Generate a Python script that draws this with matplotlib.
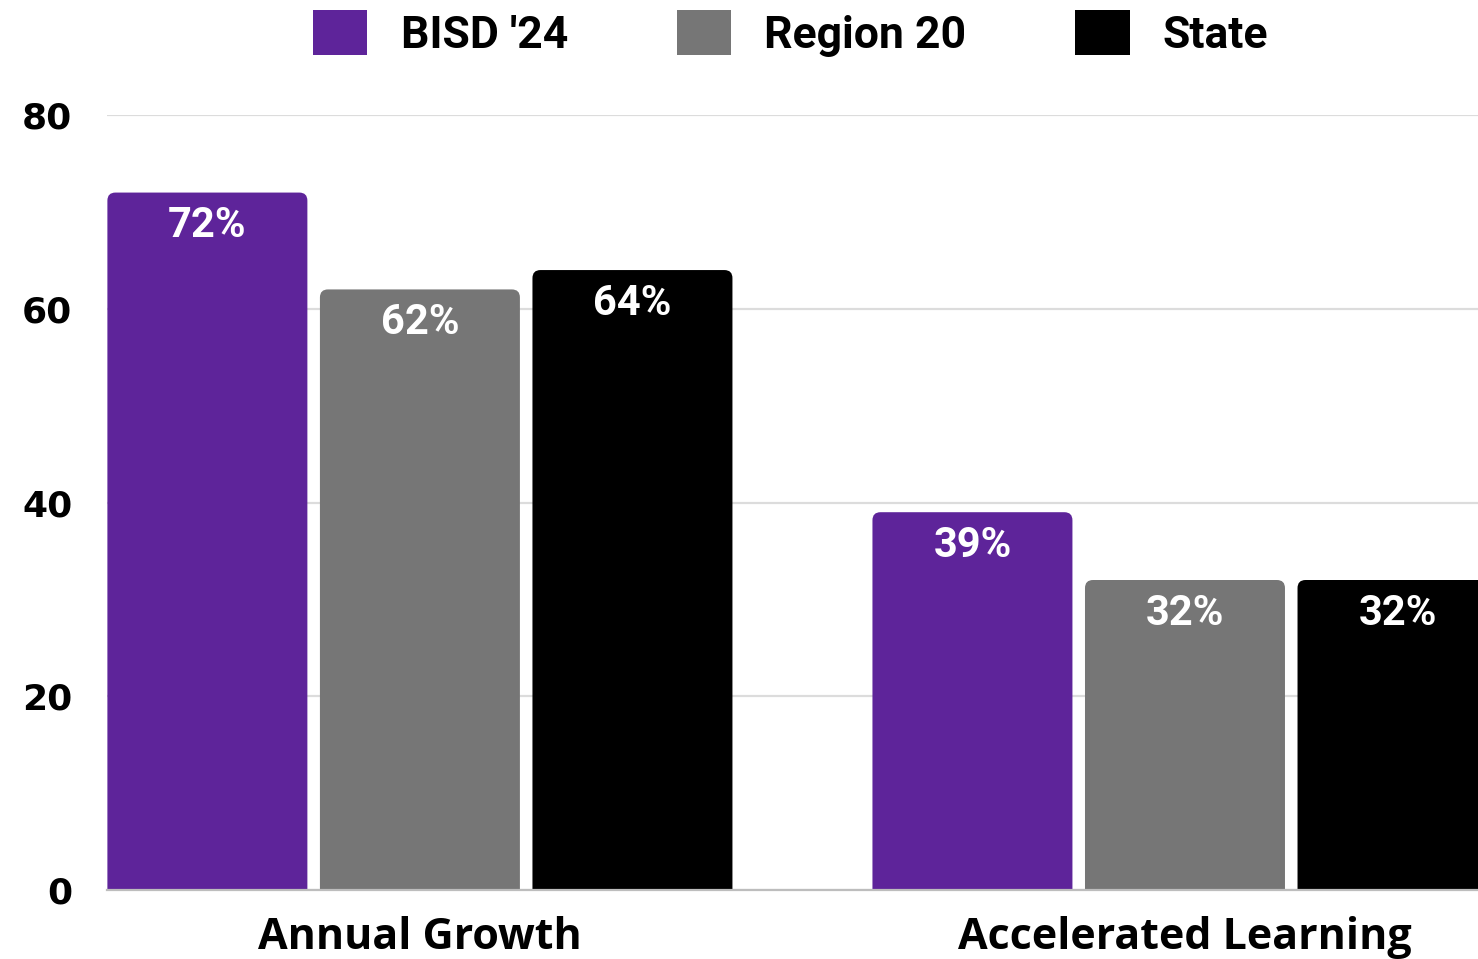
import numpy as np
import matplotlib
matplotlib.use("Agg")
import matplotlib.pyplot as plt
import matplotlib.patches as mpatches

# Data
categories = ["Annual Growth", "Accelerated Learning"]
series = ["BISD '24", "Region 20", "State"]
bisd = [72, 39]
region20 = [62, 32]
state = [64, 32]
colors = ["#5E249A", "#767676", "#000000"]
yticks = [0, 20, 40, 60, 80]

values = [bisd, region20, state]

fig = plt.figure(figsize=(14.78, 9.59), dpi=100)
ax = fig.add_axes([0.0724, 0.072, 0.9276, 0.808])

x = np.arange(len(categories))
width = 0.2614
step = 0.2778

# rounded top corners (radius ~8 px); bottom rounding is hidden below y=0
rsize = 0.0105
aspect = 79.0

for i, (name, vals, col) in enumerate(zip(series, values, colors)):
    bars = ax.bar(x + (i - 1) * step, vals, width, color=col, alpha=0)
    for b, v in zip(bars, vals):
        patch = mpatches.FancyBboxPatch(
            (b.get_x(), -3), b.get_width(), b.get_height() + 3,
            boxstyle=mpatches.BoxStyle("Round", pad=0, rounding_size=rsize),
            mutation_aspect=aspect, facecolor=col, edgecolor="none", zorder=3)
        ax.add_patch(patch)
        ax.annotate("%d%%" % v, (b.get_x() + b.get_width() / 2, v),
                    xytext=(0, -24), textcoords="offset points",
                    ha="center", va="center", color="white",
                    fontsize=30, fontweight="bold", family="Roboto", zorder=4)

ax.set_xlim(-0.409, 1.383)
ax.set_ylim(0, 80)
ax.set_yticks(yticks)
ax.set_yticklabels([str(t) for t in yticks], fontsize=26, fontweight="bold",
                   family="DejaVu Sans")
ax.set_xticks(x)
ax.set_xticklabels(categories, fontsize=31, fontweight="bold", family="Open Sans")
ax.tick_params(axis="y", length=0, pad=25)
ax.tick_params(axis="x", length=0, pad=19)

ax.grid(axis="y", color="#dcdcdc", lw=1.6, zorder=0)
ax.set_axisbelow(True)
for s in ["top", "right", "left"]:
    ax.spines[s].set_visible(False)
ax.spines["bottom"].set_color("#bdbdbd")
ax.spines["bottom"].set_linewidth(1.6)
ax.spines["bottom"].set_zorder(5)

handles = [mpatches.Patch(facecolor=c, edgecolor="none") for c in colors]
fig.legend(handles, series, loc="center", bbox_to_anchor=(0.535, 0.965),
           ncol=3, frameon=False, prop={"family": "Roboto", "weight": "bold", "size": 32},
           handlelength=1.22, handleheight=1.17, handletextpad=0.75,
           columnspacing=2.45)

fig.savefig("out.png", dpi=100)
